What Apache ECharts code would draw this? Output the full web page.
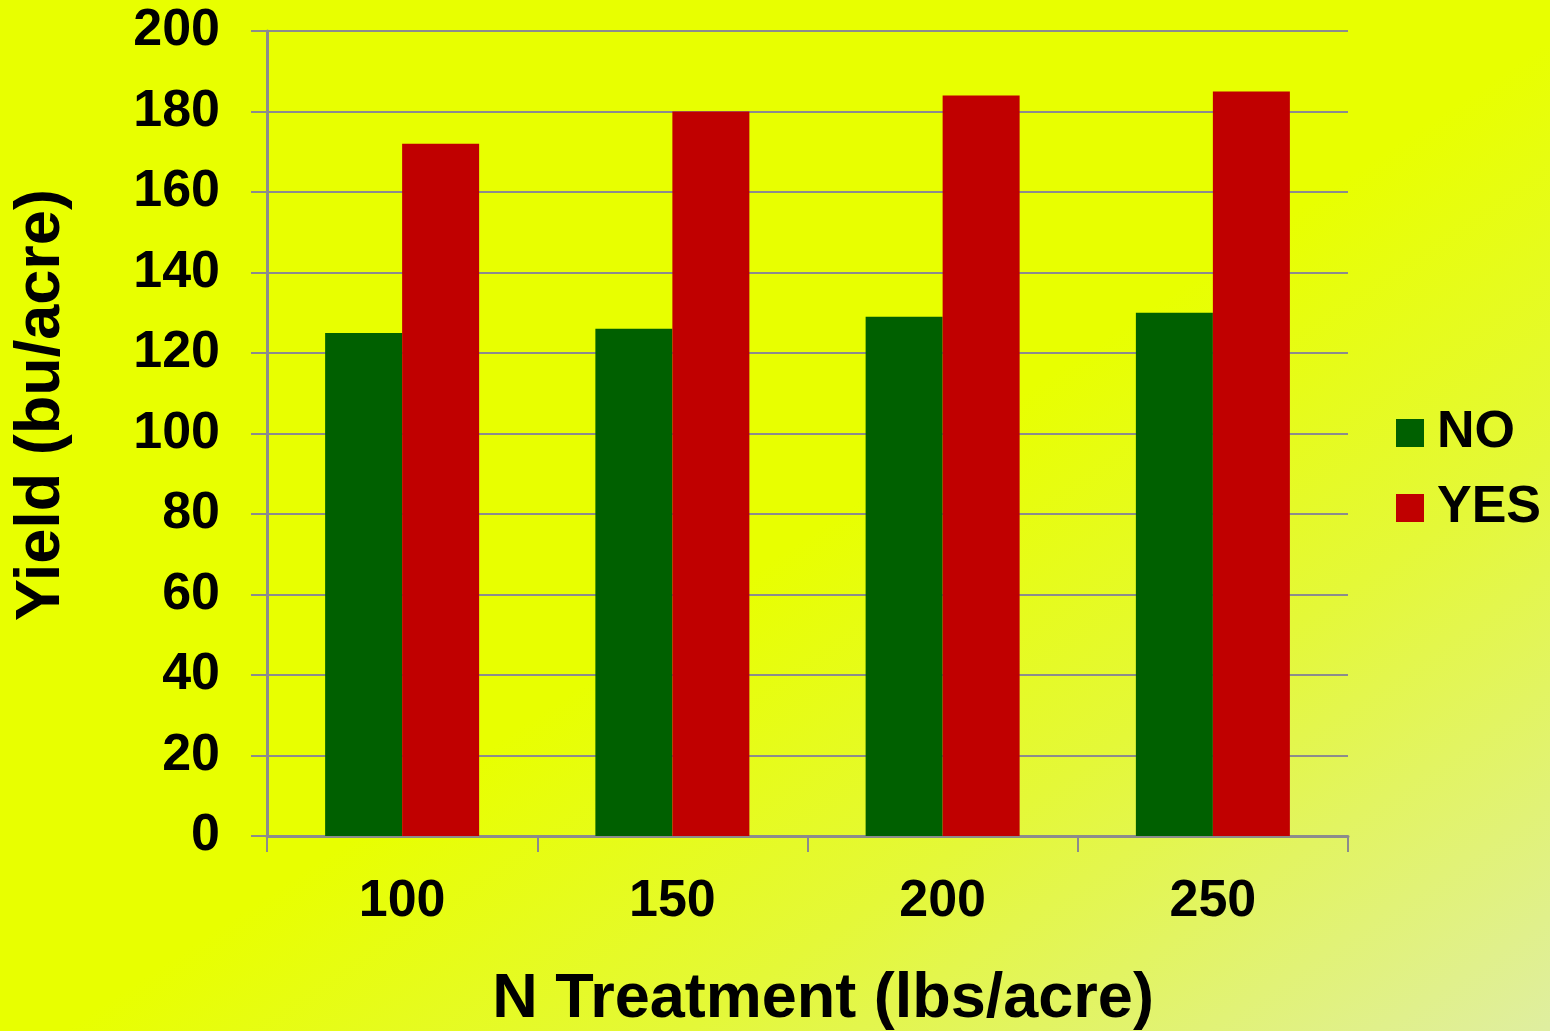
<!DOCTYPE html>
<html>
<head>
<meta charset="utf-8">
<script src="https://cdn.jsdelivr.net/npm/echarts@6/dist/echarts.min.js"></script>
<style>
html,body{margin:0;padding:0;}
#chart{width:1550px;height:1031px;background:linear-gradient(to bottom right,#E8FF00 0%,#E8FF00 52%,#E4F838 72%,#DFEEA0 100%);}
</style>
</head>
<body>
<div id="chart"></div>
<script>
const categories = ['100', '150', '200', '250'];
const seriesNames = ['NO', 'YES'];
const noValues = [125, 126, 129, 130];
const yesValues = [172, 180, 184, 185];
const yTicks = { min: 0, max: 200, interval: 20 };

const FONT = "'Liberation Sans', Arial, sans-serif";
const chart = echarts.init(document.getElementById('chart'), null, { renderer: 'canvas' });
chart.setOption({
  backgroundColor: 'transparent',
  animation: false,
  textStyle: { fontFamily: FONT },
  grid: { left: 267, right: 202, top: 31, bottom: 195, containLabel: false, outerBoundsMode: 'none' },
  legend: {
    orient: 'vertical',
    left: 1391,
    top: 402,
    itemWidth: 28,
    itemHeight: 28,
    itemGap: 23,
    icon: 'rect',
    data: seriesNames,
    textStyle: { fontFamily: FONT, fontWeight: 'bold', fontSize: 52, color: '#000', lineHeight: 52, padding: [0, 0, 0, 8] }
  },
  xAxis: {
    type: 'category',
    data: categories,
    name: 'N Treatment (lbs/acre)',
    nameLocation: 'middle',
    nameGap: 132,
    nameTextStyle: { fontFamily: FONT, fontWeight: 'bold', fontSize: 63, color: '#000', padding: [0, 0, 0, 31] },
    axisLine: { lineStyle: { color: '#8c8c8c', width: 3 } },
    axisTick: { show: true, length: 16, lineStyle: { color: '#8c8c8c', width: 2 } },
    axisLabel: { fontFamily: FONT, fontWeight: 'bold', fontSize: 52, color: '#000', margin: 40 },
    splitLine: { show: false }
  },
  yAxis: {
    type: 'value',
    min: yTicks.min,
    max: yTicks.max,
    interval: yTicks.interval,
    name: 'Yield (bu/acre)',
    nameLocation: 'middle',
    nameGap: 194,
    nameTextStyle: { fontFamily: FONT, fontWeight: 'bold', fontSize: 63, color: '#000', padding: [0, 0, 0, 57] },
    axisLine: { show: true, lineStyle: { color: '#8c8c8c', width: 3 } },
    axisTick: { show: true, length: 16, lineStyle: { color: '#8c8c8c', width: 2 } },
    axisLabel: { fontFamily: FONT, fontWeight: 'bold', fontSize: 52, color: '#000', margin: 47 },
    splitLine: { show: true, lineStyle: { color: '#8c8c8c', width: 2 } }
  },
  series: [
    {
      name: seriesNames[0],
      type: 'bar',
      data: noValues,
      barWidth: 77,
      barGap: '0%',
      itemStyle: { color: '#006000' }
    },
    {
      name: seriesNames[1],
      type: 'bar',
      data: yesValues,
      barWidth: 77,
      barGap: '0%',
      itemStyle: { color: '#C00000' }
    }
  ]
});
</script>
</body>
</html>
